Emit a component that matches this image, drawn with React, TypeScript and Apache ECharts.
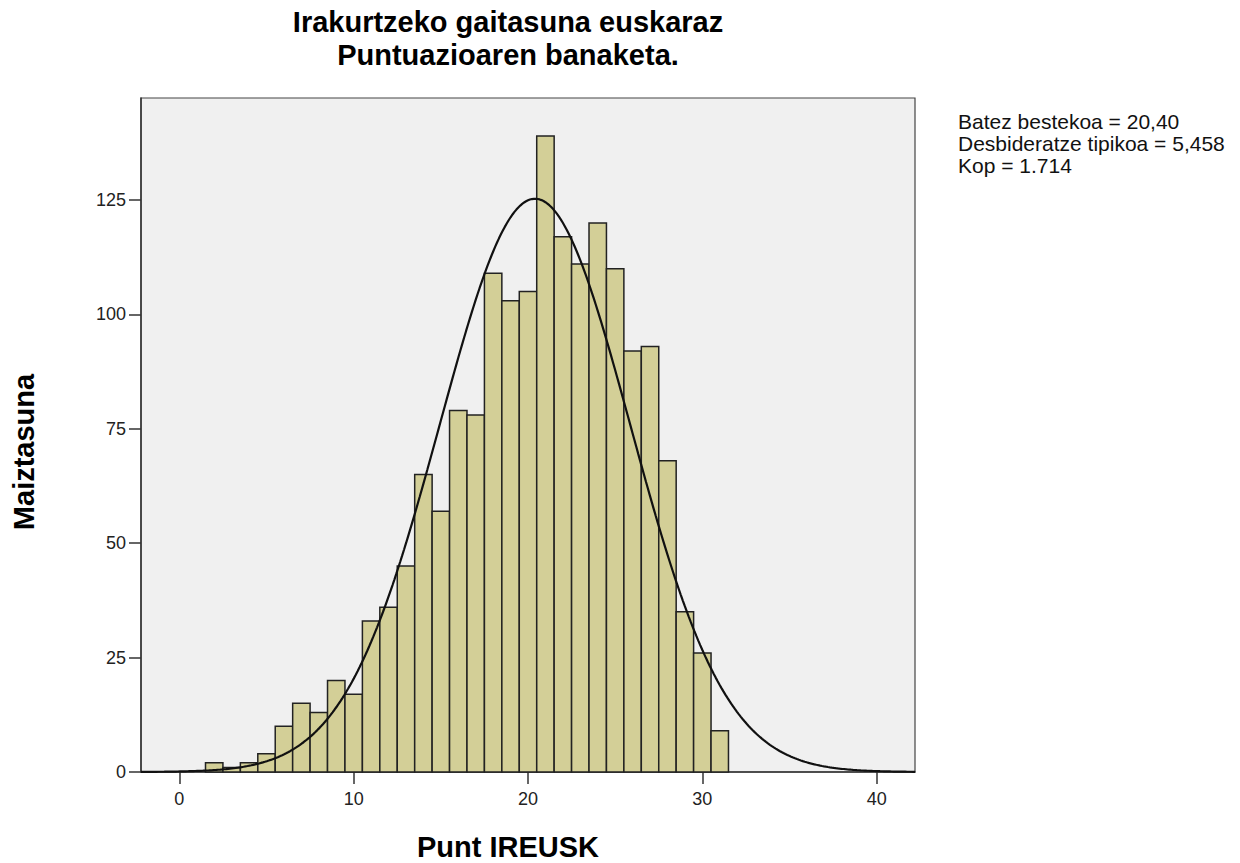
import React, { useEffect, useRef } from "react";
import * as echarts from "echarts";

// Histogram bins (score value, bin width 1)
const SCORES = [2, 3, 4, 5, 6, 7, 8, 9, 10, 11, 12, 13, 14, 15, 16, 17, 18, 19, 20, 21, 22, 23, 24, 25, 26, 27, 28, 29, 30, 31];
const FREQUENCIES = [2, 1, 2, 4, 10, 15, 13, 20, 17, 33, 36, 45, 65, 57, 79, 78, 109, 103, 105, 139, 117, 111, 120, 110, 92, 93, 68, 35, 26, 9];

// Summary statistics shown in the chart
const MEAN = 20.4;
const SD = 5.458;
const COUNT = 1714;
const BIN_WIDTH = 1;

const X_TICKS = [0, 10, 20, 30, 40];
const Y_TICKS = [0, 25, 50, 75, 100, 125];

const TITLE_LINES = ["Irakurtzeko gaitasuna euskaraz", "Puntuazioaren banaketa."];
const STATS_LINES = ["Batez bestekoa = 20,40", "Desbideratze tipikoa = 5,458", "Kop = 1.714"];
const X_NAME = "Punt IREUSK";
const Y_NAME = "Maiztasuna";

const X_MIN = -2.2;
const X_MAX = 42.2;
const Y_MAX = 147.3;

// Fitted normal curve defined by the stated mean, sd and count
function normalCurve(): number[][] {
  const pts: number[][] = [];
  const steps = 400;
  for (let i = 0; i <= steps; i++) {
    const x = X_MIN + ((X_MAX - X_MIN) * i) / steps;
    const z = (x - MEAN) / SD;
    const y = (COUNT * BIN_WIDTH) / (SD * Math.sqrt(2 * Math.PI)) * Math.exp(-0.5 * z * z);
    pts.push([x, y]);
  }
  return pts;
}

export default function App() {
  const ref = useRef<HTMLDivElement>(null);

  useEffect(() => {
    if (!ref.current) return;
    const chart = echarts.init(ref.current, undefined, { renderer: "svg" });
    const FONT = "'Liberation Sans', Arial, Helvetica, sans-serif";
    const barData = SCORES.map((s, i) => [s, FREQUENCIES[i]]);

    chart.setOption({
      animation: false,
      backgroundColor: "#ffffff",
      textStyle: { fontFamily: FONT },
      grid: {
        left: 141,
        top: 98,
        width: 774,
        height: 674,
        show: true,
        backgroundColor: "#f0f0f0",
        borderColor: "#444",
        borderWidth: 1.2,
      },
      xAxis: {
        type: "value",
        min: X_MIN,
        max: X_MAX,
        axisLine: { show: true, onZero: false, lineStyle: { color: "#333", width: 1.5 } },
        axisTick: { show: true, length: 12, customValues: X_TICKS, lineStyle: { color: "#333", width: 1.5 } },
        axisLabel: { customValues: X_TICKS, fontSize: 18, color: "#222", margin: 18, fontFamily: FONT },
        splitLine: { show: false },
      },
      yAxis: {
        type: "value",
        min: 0,
        max: Y_MAX,
        axisLine: { show: true, onZero: false, lineStyle: { color: "#333", width: 1.5 } },
        axisTick: { show: true, length: 12, customValues: Y_TICKS, lineStyle: { color: "#333", width: 1.5 } },
        axisLabel: { customValues: Y_TICKS, fontSize: 18, color: "#222", margin: 15, fontFamily: FONT },
        splitLine: { show: false },
      },
      series: [
        {
          type: "custom",
          data: barData,
          z: 2,
          renderItem: (params: any, api: any) => {
            const x = api.value(0);
            const y = api.value(1);
            const p0 = api.coord([x - BIN_WIDTH / 2, 0]);
            const p1 = api.coord([x + BIN_WIDTH / 2, y]);
            return {
              type: "rect",
              shape: { x: p0[0], y: p1[1], width: p1[0] - p0[0], height: p0[1] - p1[1] },
              style: { fill: "#d3cf97", stroke: "#222", lineWidth: 1.5 },
            };
          },
        },
        {
          type: "line",
          data: normalCurve(),
          showSymbol: false,
          symbol: "none",
          z: 3,
          lineStyle: { color: "#111", width: 2.2 },
        },
      ],
      graphic: [
        {
          type: "text",
          x: 508,
          y: 22,
          style: { text: TITLE_LINES[0], font: `bold 29px ${FONT}`, fill: "#000", align: "center", verticalAlign: "middle" },
        },
        {
          type: "text",
          x: 508,
          y: 55,
          style: { text: TITLE_LINES[1], font: `bold 29px ${FONT}`, fill: "#000", align: "center", verticalAlign: "middle" },
        },
        ...STATS_LINES.map((t, i) => ({
          type: "text",
          x: 958,
          y: 121.7 + i * 21.7,
          style: { text: t, font: `21px ${FONT}`, fill: "#111", align: "left", verticalAlign: "middle" },
        })),
        {
          type: "text",
          x: 508,
          y: 847,
          style: { text: X_NAME, font: `bold 29px ${FONT}`, fill: "#000", align: "center", verticalAlign: "middle" },
        },
        {
          type: "text",
          x: 24,
          y: 452,
          rotation: Math.PI / 2,
          style: { text: Y_NAME, font: `bold 29px ${FONT}`, fill: "#000", align: "center", verticalAlign: "middle" },
        },
      ],
    });

    return () => chart.dispose();
  }, []);

  return <div ref={ref} style={{ position: "fixed", left: 0, top: 0, width: 1240, height: 863 }} />;
}
